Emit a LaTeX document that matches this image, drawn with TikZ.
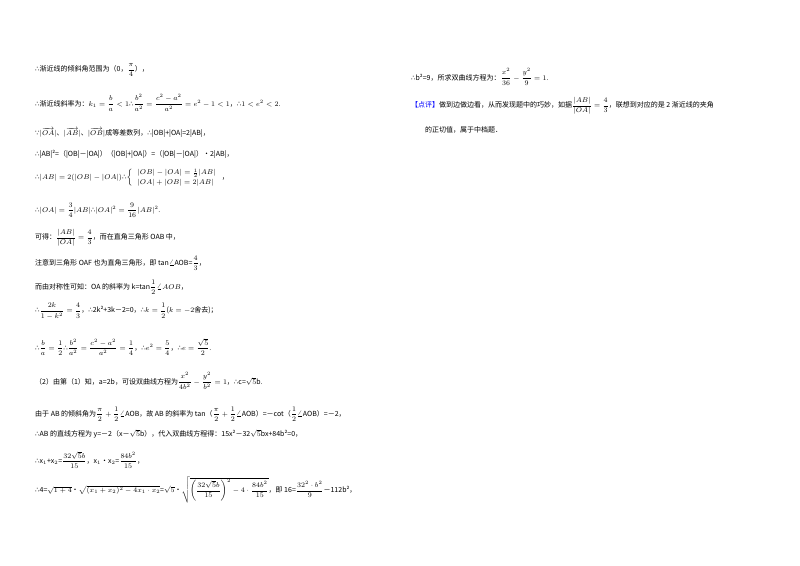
\documentclass[tikz,border=0pt]{standalone}
\usepackage{amsmath}
\usepackage{fontspec}
\setmainfont{Noto Sans CJK SC}
\newfontfamily\sym{DejaVu Sans}
\begin{document}
\begin{tikzpicture}[x=1pt,y=-1pt,every node/.style={anchor=west,inner sep=0pt,font=\fontsize{7}{8}\selectfont}]
\useasboundingbox (0,0) rectangle (800,565);
\def\tf{{\sym ∴}}
\def\bc{{\sym ∵}}
\node (l1) at (35,70) {\tf 渐近线的倾斜角范围为（0，$\dfrac{\pi}{4}$），};
\node (l2) at (35,103) {\tf 渐近线斜率为：$k_1=\dfrac{b}{a}<1$\tf$\dfrac{b^2}{a^2}=\dfrac{c^2-a^2}{a^2}=e^2-1<1$，\tf$1<e^2<2$.};
\node (l3) at (35,133) {\bc$|\overrightarrow{OA}|$、$|\overrightarrow{AB}|$、$|\overrightarrow{OB}|$成等差数列，\tf|OB|+|OA|=2|AB|，};
\node (l4) at (35,154) {\tf|AB|²=（|OB|－|OA|）（|OB|+|OA|）=（|OB|－|OA|）•2|AB|，};
\node (l5) at (35,178) {\tf$|AB|=2(|OB|-|OA|)$\tf$\left\{\begin{array}{l}|OB|-|OA|=\frac{1}{2}|AB|\\[2pt] |OA|+|OB|=2|AB|\end{array}\right.$，};
\node (l6) at (35,210) {\tf$|OA|=\dfrac{3}{4}|AB|$\tf$|OA|^2=\dfrac{9}{16}|AB|^2$.};
\node (l7) at (35,238) {可得：$\dfrac{|AB|}{|OA|}=\dfrac{4}{3}$，而在直角三角形 OAB 中，};
\node (l8) at (35,263) {注意到三角形 OAF 也为直角三角形，即 tan$\angle$AOB=$\dfrac{4}{3}$，};
\node (l9) at (35,287) {而由对称性可知：OA 的斜率为 k=tan$\dfrac{1}{2}\angle AOB$，};
\node (l10) at (35,311) {\tf$\dfrac{2k}{1-k^2}=\dfrac{4}{3}$，\tf2k²+3k－2=0，\tf$k=\dfrac{1}{2}$($k=-2$舍去)；};
\node (l11) at (35,347) {\tf$\dfrac{b}{a}=\dfrac{1}{2}$\tf$\dfrac{b^2}{a^2}=\dfrac{c^2-a^2}{a^2}=\dfrac{1}{4}$，\tf$e^2=\dfrac{5}{4}$，\tf$e=\dfrac{\sqrt5}{2}$.};
\node (l12) at (35,381) {（2）由第（1）知，a=2b，可设双曲线方程为$\dfrac{x^2}{4b^2}-\dfrac{y^2}{b^2}=1$，\tf c=$\sqrt5$b.};
\node (l13) at (35,414) {由于 AB 的倾斜角为$\dfrac{\pi}{2}+\dfrac{1}{2}\angle$AOB，故 AB 的斜率为 tan（$\dfrac{\pi}{2}+\dfrac{1}{2}\angle$AOB）=－cot（$\dfrac{1}{2}\angle$AOB）=－2，};
\node (l14) at (35,434) {\tf AB 的直线方程为 y=－2（x－$\sqrt5$b），代入双曲线方程得：15x²－32$\sqrt5$bx+84b²=0，};
\node (l15) at (35,460) {\tf x$_1$+x$_2$=$\dfrac{32\sqrt5 b}{15}$，x$_1$•x$_2$=$\dfrac{84b^2}{15}$，};
\node (l16) at (35,490) {\tf 4=$\sqrt{1+4}$•$\sqrt{(x_1+x_2)^2-4x_1\cdot x_2}$=$\sqrt5$•$\sqrt{\left(\dfrac{32\sqrt5 b}{15}\right)^2-4\cdot\dfrac{84b^2}{15}}$，即 16=$\dfrac{32^2\cdot b^2}{9}$－112b²，};
\node (r1) at (411,77) {\tf b²=9，所求双曲线方程为：$\dfrac{x^2}{36}-\dfrac{y^2}{9}=1$.};
\node (r2) at (411,106) {\textcolor{blue}{【点评】}做到边做边看，从而发现题中的巧妙，如据$\dfrac{|AB|}{|OA|}=\dfrac{4}{3}$，联想到对应的是 2 渐近线的夹角};
\node (r3) at (425,130) {的正切值，属于中档题．};
\end{tikzpicture}
\end{document}
